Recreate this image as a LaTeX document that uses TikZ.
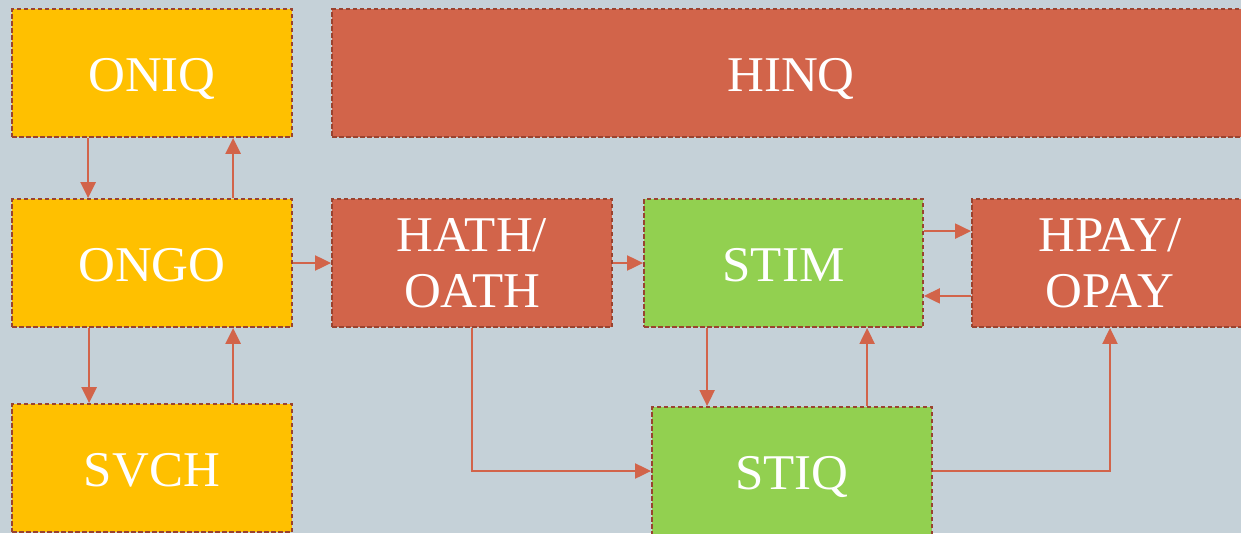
\documentclass[tikz,border=0pt]{standalone}
\usepackage{fontspec}
\setmainfont{Liberation Serif}[FakeStretch=1.02]
\usetikzlibrary{arrows.meta}
\definecolor{bgc}{HTML}{C5D1D8}
\definecolor{yel}{HTML}{FFC000}
\definecolor{redc}{HTML}{D2644A}
\definecolor{grn}{HTML}{92D050}
\definecolor{edge}{HTML}{9A4330}
\tikzset{
  box/.style={draw=edge, line width=1.8pt, dash pattern=on 4.5pt off 2.5pt,
    minimum height=128pt, inner sep=0pt, text=white,
    font=\fontsize{50}{56}\selectfont, align=center},
  one/.style={text depth=0pt, text height=37pt},
  ybox/.style={box, fill=yel, minimum width=280pt},
  rbox/.style={box, fill=redc},
  gbox/.style={box, fill=grn},
  arr/.style={draw=redc, line width=2pt, -{Triangle[length=16pt,width=15pt]}},
  arrthick/.style={arr, line width=2.6pt}
}
\begin{document}
\begin{tikzpicture}[x=1pt,y=-1pt]
\fill[bgc] (0,0) rectangle (1241,533);
\useasboundingbox (0,0) rectangle (1241,533);
\clip (0,0) rectangle (1241,533);
\node[ybox, one] (oniq) at (152,73) {ONIQ};
\node[rbox, one, minimum width=918pt] (hinq) at (791,73) {HINQ};
\node[ybox, one] (ongo) at (152,263) {ONGO};
\node[ybox, one] (svch) at (152,468) {SVCH};
\node[rbox, minimum width=280pt] (hath) at (472,263) {HATH/\\OATH};
\node[gbox, one, minimum width=279pt] (stim) at (783.5,263) {STIM};
\node[rbox, minimum width=276pt] (hpay) at (1110,263) {HPAY/\\OPAY};
\node[gbox, one, minimum width=280pt] (stiq) at (792,471) {STIQ};
% left column
\draw[arrthick] ([xshift=77pt]oniq.south west) -- ([xshift=77pt]ongo.north west);
\draw[arrthick] ([xshift=222pt]ongo.north west) -- ([xshift=222pt]oniq.south west);
\draw[arrthick] ([xshift=78pt]ongo.south west) -- ([xshift=78pt]svch.north west);
\draw[arrthick] ([xshift=222pt]svch.north west) -- ([xshift=222pt]ongo.south west);
% middle
\draw[arr] (ongo.east) -- (hath.west);
\draw[arr] (hath.east) -- (stim.west);
\draw[arr] ([yshift=-33pt]stim.north east) -- ([yshift=-33pt]hpay.north west);
\draw[arr] ([yshift=32pt]hpay.south west) -- ([yshift=32pt]stim.south east);
\draw[arr] ([xshift=64pt]stim.south west) -- ([xshift=56pt]stiq.north west);
\draw[arr] ([xshift=216pt]stiq.north west) -- ([xshift=224pt]stim.south west);
\draw[arr] (hath.south) |- (stiq.west);
\draw[arr] (stiq.east) -| (hpay.south);
\end{tikzpicture}
\end{document}
